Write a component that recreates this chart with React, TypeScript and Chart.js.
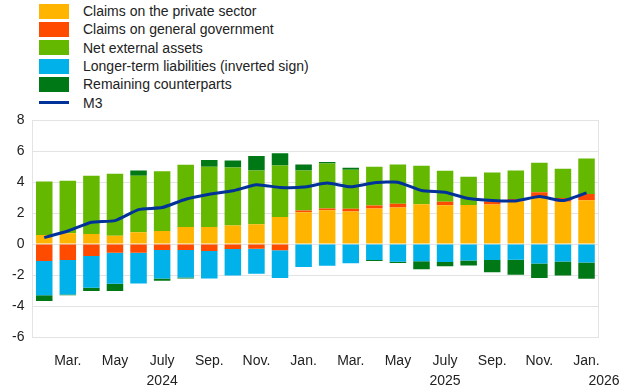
import React, { useEffect, useRef } from "react";
import { Chart, registerables } from "chart.js";

Chart.register(...registerables);

const months = [
  "Feb. 2024", "Mar. 2024", "Apr. 2024", "May 2024", "June 2024", "July 2024",
  "Aug. 2024", "Sep. 2024", "Oct. 2024", "Nov. 2024", "Dec. 2024", "Jan. 2025",
  "Feb. 2025", "Mar. 2025", "Apr. 2025", "May 2025", "June 2025", "July 2025",
  "Aug. 2025", "Sep. 2025", "Oct. 2025", "Nov. 2025", "Dec. 2025", "Jan. 2026",
];

const monthTicks = [
  "", "Mar.", "", "May", "", "July", "", "Sep.", "", "Nov.", "", "Jan.",
  "", "Mar.", "", "May", "", "July", "", "Sep.", "", "Nov.", "", "Jan.",
];

const yearTicks = [
  "", "", "", "", "", "2024", "", "", "", "", "", "",
  "", "", "", "", "", "2025", "", "", "", "", "", "         2026",
];

const privateSector = [
  0.58, 0.69, 0.65, 0.54, 0.76, 0.84, 1.10, 1.10, 1.19, 1.27, 1.75, 2.05,
  2.18, 2.09, 2.29, 2.36, 2.57, 2.50, 2.52, 2.55, 2.76, 3.00, 2.72, 2.82,
];

const generalGov = [
  -1.10, -1.04, -0.78, -0.56, -0.56, -0.39, -0.39, -0.45, -0.32, -0.30, -0.41, 0.11,
  0.11, 0.18, 0.19, 0.23, 0.0, 0.22, 0.0, 0.19, 0.15, 0.34, 0.25, 0.40,
];

const netExternal = [
  3.45, 3.39, 3.75, 3.99, 3.64, 3.86, 4.01, 3.88, 3.75, 3.48, 3.32, 2.59,
  2.91, 2.52, 2.50, 2.54, 2.48, 2.00, 1.82, 1.88, 1.84, 1.90, 1.88, 2.30,
];

const longerTerm = [
  -2.20, -2.22, -2.05, -2.01, -1.99, -1.83, -1.77, -1.77, -1.71, -1.62, -1.79, -1.48,
  -1.40, -1.24, -1.03, -1.14, -1.11, -1.16, -1.07, -1.03, -1.02, -1.26, -1.13, -1.20,
];

const remaining = [
  -0.37, -0.04, -0.21, -0.47, 0.35, -0.15, -0.06, 0.44, 0.45, 0.92, 0.78, 0.38,
  0.09, 0.13, -0.07, -0.09, -0.52, -0.28, -0.32, -0.80, -0.96, -0.93, -0.91, -1.04,
];

const m3 = [
  0.41, 0.84, 1.40, 1.51, 2.22, 2.35, 2.89, 3.21, 3.43, 3.82, 3.65, 3.67,
  3.93, 3.69, 3.95, 3.99, 3.45, 3.34, 2.93, 2.80, 2.78, 3.06, 2.80, 3.30,
];

const yTicks = [-6, -4, -2, 0, 2, 4, 6, 8];

const COLORS = {
  private: "#FFB400",
  gov: "#FF4B00",
  nea: "#65B800",
  ltl: "#00B1EA",
  rem: "#007816",
  m3: "#003299",
};

const legendItems = [
  { label: "Claims on the private sector", color: COLORS.private, kind: "box" },
  { label: "Claims on general government", color: COLORS.gov, kind: "box" },
  { label: "Net external assets", color: COLORS.nea, kind: "box" },
  { label: "Longer-term liabilities (inverted sign)", color: COLORS.ltl, kind: "box" },
  { label: "Remaining counterparts", color: COLORS.rem, kind: "box" },
  { label: "M3", color: COLORS.m3, kind: "line" },
];

const GRID = "#e3e3e3";
const FONT = "Arial, 'Liberation Sans', sans-serif";

const borderPlugin = {
  id: "plotBorder",
  beforeDatasetsDraw(chart: any) {
    const { ctx, chartArea } = chart;
    ctx.save();
    ctx.strokeStyle = GRID;
    ctx.lineWidth = 1;
    ctx.strokeRect(
      Math.round(chartArea.left) + 0.5,
      Math.round(chartArea.top) + 0.5,
      Math.round(chartArea.right - chartArea.left),
      Math.round(chartArea.bottom - chartArea.top)
    );
    ctx.restore();
  },
};

export default function App() {
  const ref = useRef<HTMLCanvasElement | null>(null);

  useEffect(() => {
    document.body.style.margin = "0";
    const canvas = ref.current;
    if (!canvas) return;
    const barCommon = {
      type: "bar" as const,
      barPercentage: 0.7,
      categoryPercentage: 1,
      borderWidth: 0,
      stack: "s",
      order: 2,
    };
    const chart = new Chart(canvas, {
      data: {
        labels: months,
        datasets: [
          { ...barCommon, label: "Claims on the private sector", data: privateSector, backgroundColor: COLORS.private },
          { ...barCommon, label: "Claims on general government", data: generalGov, backgroundColor: COLORS.gov },
          { ...barCommon, label: "Net external assets", data: netExternal, backgroundColor: COLORS.nea },
          { ...barCommon, label: "Longer-term liabilities (inverted sign)", data: longerTerm, backgroundColor: COLORS.ltl },
          { ...barCommon, label: "Remaining counterparts", data: remaining, backgroundColor: COLORS.rem },
          {
            type: "line" as const,
            label: "M3",
            data: m3,
            borderColor: COLORS.m3,
            backgroundColor: COLORS.m3,
            borderWidth: 3,
            pointRadius: 0,
            tension: 0.15,
            order: 1,
          },
        ],
      } as any,
      options: {
        responsive: false,
        animation: false,
        devicePixelRatio: 1,
        layout: { padding: { top: 120, left: 4, right: 19, bottom: 0 } },
        plugins: {
          legend: { display: false },
          tooltip: { enabled: false },
        },
        scales: {
          x: {
            stacked: true,
            offset: true,
            grid: {
              display: true,
              drawOnChartArea: false,
              drawTicks: true,
              tickLength: 14,
              color: "rgba(0,0,0,0)",
            },
            border: { display: false },
            ticks: {
              autoSkip: false,
              maxRotation: 0,
              minRotation: 0,
              padding: 0,
              color: "#222",
              font: { family: FONT, size: 14, lineHeight: 20 / 14 },
              callback: (_v: any, i: number) =>
                yearTicks[i] ? [monthTicks[i], yearTicks[i]] : monthTicks[i],
            },
          },
          y: {
            stacked: true,
            min: yTicks[0],
            max: yTicks[yTicks.length - 1],
            afterBuildTicks: (axis: any) => {
              axis.ticks = yTicks.map((v) => ({ value: v }));
            },
            grid: { color: GRID, drawTicks: false, lineWidth: 1 },
            border: { display: false },
            ticks: {
              padding: 8,
              color: "#222",
              font: { family: FONT, size: 14 },
            },
          },
        },
      },
      plugins: [borderPlugin],
    });
    return () => chart.destroy();
  }, []);

  return (
    <div style={{ position: "relative", width: 620, height: 387, overflow: "hidden", fontFamily: FONT }}>
      <div style={{ position: "absolute", left: 39, top: 2 }}>
        {legendItems.map((it) => (
          <div key={it.label} style={{ display: "flex", alignItems: "center", height: 18.3 }}>
            <div style={{ width: 30, height: 15, display: "flex", alignItems: "center" }}>
              {it.kind === "box" ? (
                <div style={{ width: 30, height: 15, background: it.color }} />
              ) : (
                <div style={{ width: 30, height: 3, background: it.color }} />
              )}
            </div>
            <span style={{ marginLeft: 14, fontSize: 14, color: "#222", lineHeight: "16px", whiteSpace: "nowrap" }}>
              {it.label}
            </span>
          </div>
        ))}
      </div>
      <canvas ref={ref} width={620} height={391} style={{ position: "absolute", left: 0, top: 0, width: 620, height: 391 }} />
    </div>
  );
}
